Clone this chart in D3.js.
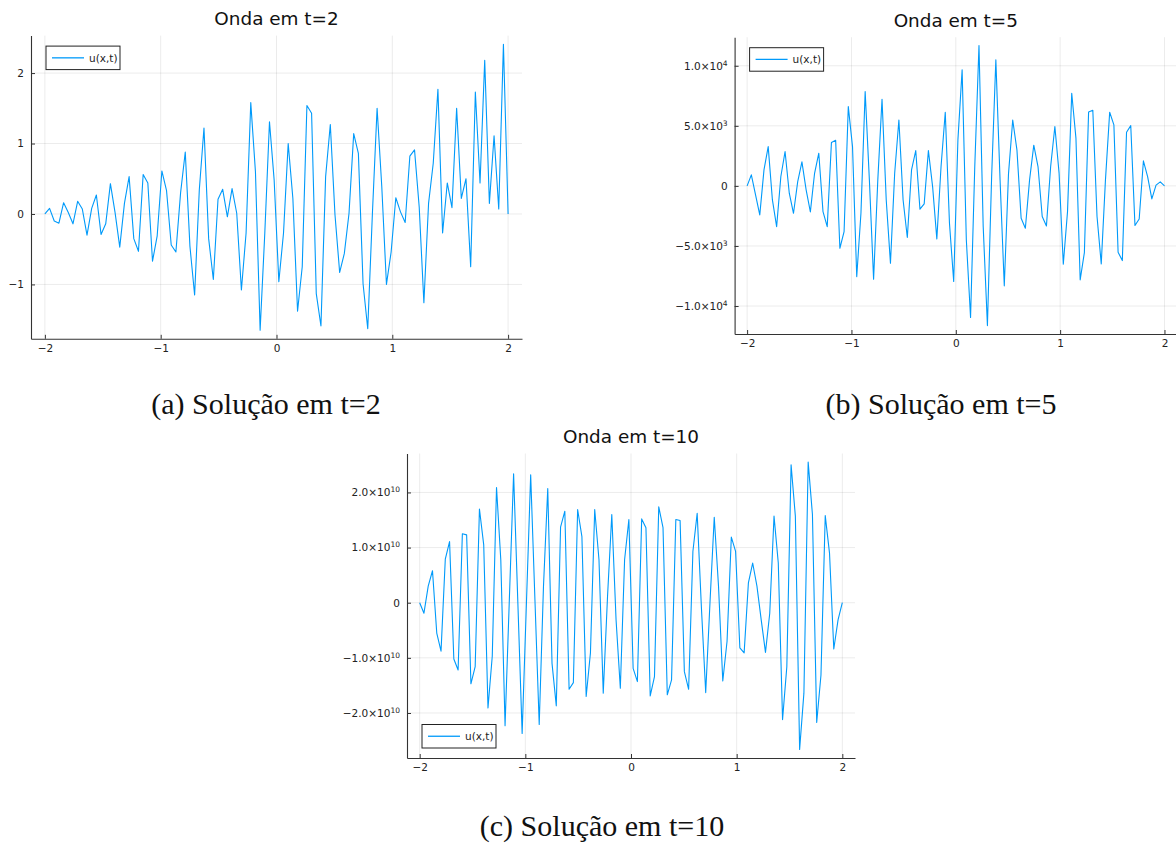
<!DOCTYPE html>
<html>
<head>
<meta charset="utf-8">
<script src="https://cdn.jsdelivr.net/npm/d3@7"></script>
<style>
  body { margin: 0; background: #fff; }
  svg { display: block; }
</style>
</head>
<body>
<svg id="fig" width="1176" height="843"></svg>
<script>
// Sample grid: 100 points from -2 to 2
const xStart = -2, xEnd = 2, nPoints = 100;
const xTicks = [-2, -1, 0, 1, 2];

// u(x,t) at t = 2
const waveT2 = [
  0, 0.08, -0.10, -0.13, 0.16, 0.02, -0.14, 0.18, 0.07, -0.30,
  0.08, 0.27, -0.29, -0.14, 0.43, 0.02, -0.47, 0.15, 0.53, -0.35,
  -0.53, 0.56, 0.44, -0.67, -0.31, 0.61, 0.33, -0.44, -0.54, 0.30,
  0.88, -0.46, -1.15, 0.34, 1.22, -0.35, -0.93, 0.21, 0.35, -0.04,
  0.36, 0.01, -1.08, -0.27, 1.58, 0.60, -1.65, -0.27, 1.31, 0.48,
  -0.96, -0.27, 1.00, 0.22, -1.38, -0.75, 1.54, 1.43, -1.13, -1.59,
  0.53, 1.27, -0.01, -0.83, -0.56, 0.01, 1.14, 0.86, -0.99, -1.63,
  0.01, 1.50, 0.39, -1.00, -0.54, 0.23, 0.03, -0.12, 0.82, 0.91,
  0.10, -1.26, 0.15, 0.72, 1.77, -0.27, 0.44, 0.09, 1.50, 0.22,
  0.50, -0.75, 1.73, 0.44, 2.18, 0.15, 1.11, 0.07, 2.41, 0
];

// u(x,t) at t = 5
const waveT5 = [
  0, 920, -750, -2410, 1330, 3270, -1170, -3390, 780, 2860,
  -610, -2280, 360, 2000, -330, -2160, 1050, 2720, -2140, -3390,
  3610, 3800, -5190, -3800, 6600, 3270, -7550, -2280, 7850, 500,
  -7770, 500, 7210, -1170, -6440, 1050, 5490, -1170, -4300, 1330,
  2940, -1940, -1500, 2940, -60, -4410, 1610, 6130, -3110, -7960,
  3830, 9660, -4500, -10960, 1610, 11680, -3390, -11630, 780, 10490,
  500, -8320, 1000, 5490, 3000, -2690, -3520, 500, 3390, 1610,
  -2550, -3330, 1610, 4940, 1050, -6520, -2140, 7710, 3970, -7820,
  -5550, 6160, 6300, -2550, -6490, 500, 6130, 5080, -5520, -6220,
  4470, 5020, -3300, -2750, 2080, 780, -1080, 60, 330, 0
];

// u(x,t) at t = 10
const waveT10 = [
  0, -0.19e10, 0.30e10, 0.58e10, -0.55e10, -0.88e10, 0.79e10, 1.11e10, -1.02e10, -1.22e10,
  1.25e10, 1.23e10, -1.47e10, -1.16e10, 1.70e10, 1.05e10, -1.91e10, -0.97e10, 2.09e10, 0.78e10,
  -2.23e10, 0.05e10, 2.34e10, -0.01e10, -2.37e10, -0.02e10, 2.32e10, 0.05e10, -2.21e10, 0.30e10,
  2.07e10, -1.10e10, -1.87e10, 1.37e10, 1.66e10, -1.57e10, -1.45e10, 1.69e10, 1.20e10, -1.70e10,
  -0.91e10, 1.69e10, 0.78e10, -1.64e10, 0.11e10, 1.60e10, -0.31e10, -1.55e10, 0.78e10, 1.51e10,
  -1.19e10, -1.43e10, 1.52e10, 1.36e10, -1.69e10, -1.34e10, 1.74e10, 1.36e10, -1.67e10, -1.40e10,
  1.51e10, 1.49e10, -1.25e10, -1.57e10, 0.93e10, 1.62e10, -0.10e10, -1.63e10, 0, 1.55e10,
  0.30e10, -1.42e10, -0.70e10, 1.19e10, 0.93e10, -0.82e10, -0.91e10, 0.36e10, 0.72e10, 0.30e10,
  -0.31e10, -0.90e10, -0.19e10, 1.57e10, 0.72e10, -2.12e10, -1.16e10, 2.50e10, 1.57e10, -2.66e10,
  -1.64e10, 2.55e10, 1.60e10, -2.17e10, -1.31e10, 1.58e10, 0.90e10, -0.84e10, -0.31e10, 0
];

const yTicksT2 = [-1, 0, 1, 2];
const yTicksT5 = [-1e4, -5e3, 0, 5e3, 1e4];
const yTicksT10 = [-2e10, -1e10, 0, 1e10, 2e10];

const titles = ["Onda em t=2", "Onda em t=5", "Onda em t=10"];
const captions = ["(a) Solução em t=2", "(b) Solução em t=5", "(c) Solução em t=10"];
const legendLabel = "u(x,t)";

const lineColor = "#009afa";
const sansFont = "'DejaVu Sans', sans-serif";
const serifFont = "'Liberation Serif', 'DejaVu Serif', serif";

const xs = d3.range(nPoints).map(i => xStart + (xEnd - xStart) * i / (nPoints - 1));

const svg = d3.select("#fig");

// Plain numeric labels with a true minus sign
function plainLabel(v) { return { m: (v < 0 ? "\u2212" : "") + Math.abs(v) }; }
// Scientific labels: mantissa ×10 with a raised exponent
function sciLabel(v) {
  if (v === 0) return { m: "0" };
  const e = Math.floor(Math.log10(Math.abs(v)));
  const m = v / Math.pow(10, e);
  return { m: (m < 0 ? "\u2212" : "") + Math.abs(m).toFixed(1) + "\u00d710", e: String(e) };
}

function padded(ext) {
  const p = (ext[1] - ext[0]) * 0.03;
  return [ext[0] - p, ext[1] + p];
}

function drawPanel(cfg) {
  const x = d3.scaleLinear().domain(padded([xStart, xEnd])).range([cfg.left, cfg.right]);
  const y = d3.scaleLinear().domain(padded(d3.extent(cfg.values))).range([cfg.bottom, cfg.top]);
  const g = svg.append("g");

  // grid
  const grid = g.append("g").attr("stroke", "#000").attr("stroke-opacity", 0.08).attr("stroke-width", 1);
  grid.selectAll(".gx").data(xTicks).join("line")
    .attr("x1", d => x(d)).attr("x2", d => x(d))
    .attr("y1", cfg.top).attr("y2", cfg.bottom);
  grid.selectAll(".gy").data(cfg.yTicks).join("line")
    .attr("x1", cfg.left).attr("x2", cfg.right)
    .attr("y1", d => y(d)).attr("y2", d => y(d));

  // axes
  const fmt = cfg.sci ? sciLabel : plainLabel;
  const xAxis = g.append("g").attr("transform", `translate(0,${cfg.bottom})`)
    .call(d3.axisBottom(x).tickValues(xTicks).tickSizeInner(-4).tickSizeOuter(0).tickPadding(6));
  const yAxis = g.append("g").attr("transform", `translate(${cfg.left},0)`)
    .call(d3.axisLeft(y).tickValues(cfg.yTicks).tickSizeInner(-4).tickSizeOuter(0).tickPadding(7));

  xAxis.selectAll("text").each(function(d) {
    d3.select(this).text(plainLabel(d).m);
  });
  yAxis.selectAll("text").each(function(d) {
    const t = d3.select(this).text(null);
    const lab = fmt(d);
    t.append("tspan").text(lab.m);
    if (lab.e) t.append("tspan").attr("font-size", 7.5).attr("dy", "-0.55em").text(lab.e);
  });
  [xAxis, yAxis].forEach(a => {
    a.attr("font-family", sansFont).attr("font-size", 10.5);
    a.selectAll("text").attr("fill", "#222");
    a.select(".domain").attr("stroke", "#333").attr("stroke-width", 1.1);
    a.selectAll(".tick line").attr("stroke", "#333");
  });

  // data line
  g.append("path")
    .datum(cfg.values)
    .attr("fill", "none")
    .attr("stroke", lineColor)
    .attr("stroke-width", 1.1)
    .attr("stroke-linejoin", "round")
    .attr("d", d3.line().x((d, i) => x(xs[i])).y(d => y(d)));

  // title
  g.append("text")
    .attr("x", (cfg.left + cfg.right) / 2).attr("y", cfg.top - 10.5)
    .attr("text-anchor", "middle")
    .attr("font-family", sansFont).attr("font-size", 18.4).attr("fill", "#111")
    .text(cfg.title);

  // legend
  const lw = 74, lh = 23.5;
  const lx = cfg.left + 15;
  const ly = cfg.legendPos === "bottom" ? cfg.bottom - 10 - lh : cfg.top + 10.5;
  const lg = g.append("g");
  lg.append("rect").attr("x", lx).attr("y", ly).attr("width", lw).attr("height", lh)
    .attr("fill", "#fff").attr("stroke", "#222").attr("stroke-width", 1);
  lg.append("line").attr("x1", lx + 6).attr("x2", lx + 38)
    .attr("y1", ly + lh / 2).attr("y2", ly + lh / 2)
    .attr("stroke", lineColor).attr("stroke-width", 1.3);
  lg.append("text").attr("x", lx + 43).attr("y", ly + lh / 2 + 3.7)
    .attr("font-family", sansFont).attr("font-size", 10.5).attr("fill", "#222")
    .text(legendLabel);

  // caption
  svg.append("text")
    .attr("x", cfg.capX).attr("y", cfg.capY)
    .attr("text-anchor", "middle")
    .attr("font-family", serifFont).attr("font-size", 30).attr("fill", "#111")
    .text(cfg.caption);
}

drawPanel({ values: waveT2, yTicks: yTicksT2, sci: false, title: titles[0], caption: captions[0],
  left: 31, right: 522, top: 35.6, bottom: 338.8, legendPos: "top", capX: 266, capY: 414 });
drawPanel({ values: waveT5, yTicks: yTicksT5, sci: true, title: titles[1], caption: captions[1],
  left: 734.6, right: 1177, top: 37.2, bottom: 334, legendPos: "top", capX: 941, capY: 414 });
drawPanel({ values: waveT10, yTicks: yTicksT10, sci: true, title: titles[2], caption: captions[2],
  left: 407, right: 855, top: 453.5, bottom: 758, legendPos: "bottom", capX: 602, capY: 836 });
</script>
</body>
</html>
